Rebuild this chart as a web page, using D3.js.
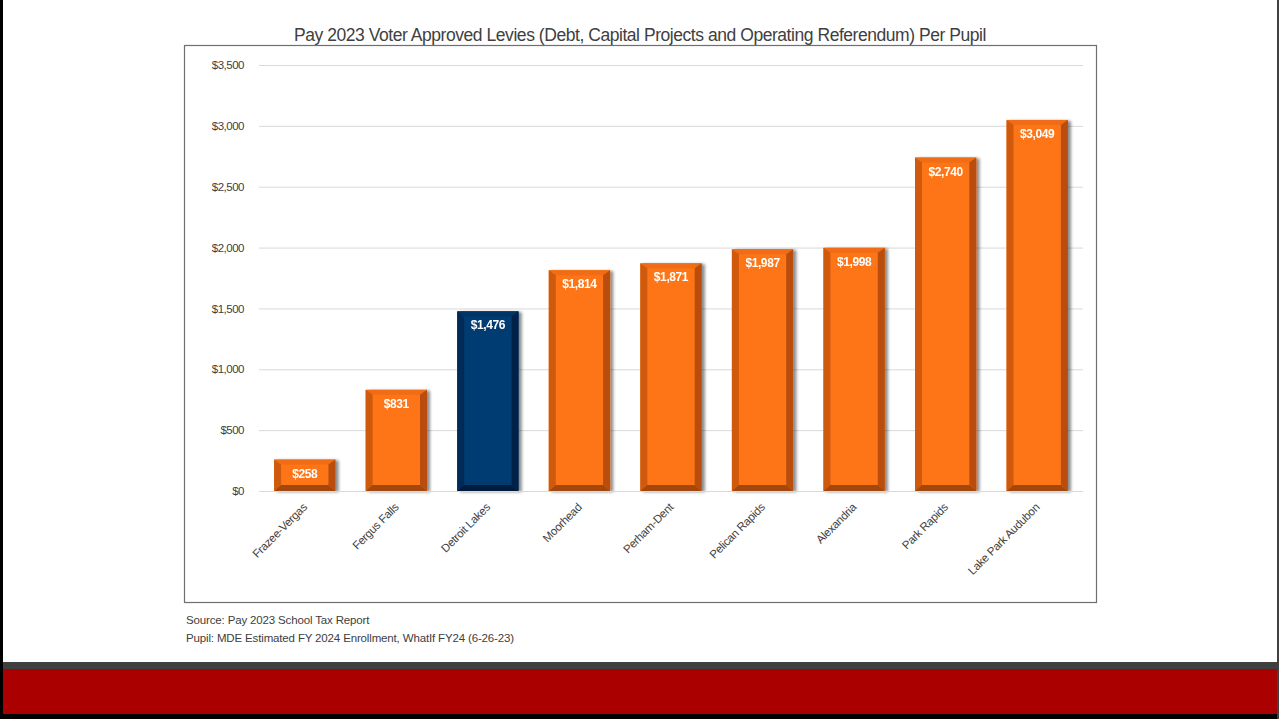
<!DOCTYPE html>
<html>
<head>
<meta charset="utf-8">
<script src="https://cdn.jsdelivr.net/npm/d3@7"></script>
<style>
  html, body { margin: 0; padding: 0; background: #fff; }
  svg { display: block; font-family: "Liberation Sans", Arial, sans-serif; }
</style>
</head>
<body>
<svg id="chart" width="1279" height="719"></svg>
<script>
// Pay 2023 voter approved levies per pupil, by district
const districts = ["Frazee-Vergas", "Fergus Falls", "Detroit Lakes", "Moorhead", "Perham-Dent",
                   "Pelican Rapids", "Alexandria", "Park Rapids", "Lake Park Audubon"];
const perPupil = [258, 831, 1476, 1814, 1871, 1987, 1998, 2740, 3049];
const highlighted = ["Detroit Lakes"];
const yTicks = [0, 500, 1000, 1500, 2000, 2500, 3000, 3500];
const titleText = "Pay 2023 Voter Approved Levies (Debt, Capital Projects and Operating Referendum) Per Pupil";
const notes = ["Source: Pay 2023 School Tax Report",
               "Pupil: MDE Estimated FY 2024 Enrollment, WhatIf FY24 (6-26-23)"];

const svg = d3.select("#chart");
const W = 1279, H = 719;

// slide frame and footer bands
svg.append("rect").attr("x", 0).attr("y", 0).attr("width", W).attr("height", H).attr("fill", "#fff");
svg.append("rect").attr("x", 3).attr("y", 662).attr("width", W - 5).attr("height", 7).attr("fill", "#3f3f3f");
svg.append("rect").attr("x", 3).attr("y", 669).attr("width", W - 5).attr("height", 45).attr("fill", "#ab0000");
svg.append("rect").attr("x", 0).attr("y", 0).attr("width", 3).attr("height", H).attr("fill", "#000");
svg.append("rect").attr("x", 0).attr("y", 714).attr("width", W).attr("height", 5).attr("fill", "#000");
svg.append("rect").attr("x", W - 2).attr("y", 0).attr("width", 2).attr("height", H).attr("fill", "#404040");

// chart box
svg.append("rect").attr("x", 184.5).attr("y", 45.5).attr("width", 912).attr("height", 557)
  .attr("fill", "#fff").attr("stroke", "#6f6f6f").attr("stroke-width", 1.2);

svg.append("text").attr("x", 640).attr("y", 41).attr("text-anchor", "middle")
  .attr("font-size", 17.5).attr("letter-spacing", -0.45).attr("fill", "#404040").text(titleText);

const x = d3.scaleBand().domain(districts).range([259, 1083]).paddingInner(0.33).paddingOuter(0.165);
const y = d3.scaleLinear().domain([0, 3500]).range([491, 65]);

// gridlines + y axis
const yAxis = d3.axisLeft(y).tickValues(yTicks).tickSize(-(1083 - 259))
  .tickFormat(d => "$" + d3.format(",")(d)).tickPadding(15);
const gy = svg.append("g").attr("transform", "translate(259,0)").call(yAxis);
gy.select(".domain").remove();
gy.selectAll(".tick line").attr("stroke", "#d9d9d9").attr("stroke-width", 1);
gy.selectAll(".tick text").attr("font-size", 11.5).attr("fill", "#404040")
  .attr("font-family", "'Liberation Sans', Arial, sans-serif").attr("letter-spacing", -0.5);

// shadow filter
const defs = svg.append("defs");
const f = defs.append("filter").attr("id", "shadow").attr("x", "-20%").attr("y", "-10%")
  .attr("width", "150%").attr("height", "130%");
f.append("feGaussianBlur").attr("in", "SourceAlpha").attr("stdDeviation", 1.6).attr("result", "b");
f.append("feOffset").attr("in", "b").attr("dx", 3).attr("dy", 1).attr("result", "o");
f.append("feComponentTransfer").attr("in", "o").attr("result", "s")
  .append("feFuncA").attr("type", "linear").attr("slope", 0.45);
const m = f.append("feMerge");
m.append("feMergeNode").attr("in", "s");
m.append("feMergeNode").attr("in", "SourceGraphic");

const palette = {
  normal: { face: "#fd7516", left: "#cf5a0e", right: "#b84d0b", top: "#f06c12", bottom: "#a2470f" },
  hi:     { face: "#053b71", left: "#032c58", right: "#022449", top: "#043466", bottom: "#021d3c" }
};

const bars = svg.append("g").selectAll("g.bar").data(districts.map((d, i) => ({ name: d, v: perPupil[i] })))
  .join("g").attr("class", "bar").attr("filter", "url(#shadow)");

const bx = 7, bt = 5, bb = 6;
bars.each(function(d) {
  const g = d3.select(this);
  const c = highlighted.includes(d.name) ? palette.hi : palette.normal;
  const x0 = x(d.name), x1 = x0 + x.bandwidth(), y0 = y(d.v), y1 = y(0);
  const poly = pts => pts.map(p => p.join(",")).join(" ");
  g.append("rect").attr("x", x0).attr("y", y0).attr("width", x1 - x0).attr("height", y1 - y0).attr("fill", c.face);
  g.append("polygon").attr("points", poly([[x0, y0], [x1, y0], [x1 - bx, y0 + bt], [x0 + bx, y0 + bt]])).attr("fill", c.top);
  g.append("polygon").attr("points", poly([[x0, y0], [x0 + bx, y0 + bt], [x0 + bx, y1 - bb], [x0, y1]])).attr("fill", c.left);
  g.append("polygon").attr("points", poly([[x1, y0], [x1, y1], [x1 - bx, y1 - bb], [x1 - bx, y0 + bt]])).attr("fill", c.right);
  g.append("polygon").attr("points", poly([[x0, y1], [x0 + bx, y1 - bb], [x1 - bx, y1 - bb], [x1, y1]])).attr("fill", c.bottom);
  g.append("text").attr("x", (x0 + x1) / 2).attr("y", y0 + 18).attr("text-anchor", "middle")
    .attr("font-size", 12).attr("font-weight", "bold").attr("fill", "#fff").attr("letter-spacing", -0.4)
    .text("$" + d3.format(",")(d.v));
});

// baseline
svg.append("line").attr("x1", 259).attr("x2", 1083).attr("y1", 491.5).attr("y2", 491.5)
  .attr("stroke", "#d9d9d9");

// x axis labels, rotated
const xAxis = d3.axisBottom(x).tickSize(0).tickPadding(0);
const gx = svg.append("g").attr("transform", "translate(0,491)").call(xAxis);
gx.select(".domain").remove();
gx.selectAll(".tick text")
  .attr("font-size", 11.5).attr("fill", "#404040").attr("font-family", "'Liberation Sans', Arial, sans-serif")
  .attr("letter-spacing", -0.3)
  .attr("text-anchor", "end").attr("dy", 0).attr("y", 0)
  .attr("transform", "translate(3,17) rotate(-45)");

svg.append("g").selectAll("text").data(notes).join("text")
  .attr("x", 186).attr("y", (d, i) => 624 + i * 18).attr("font-size", 11.5).attr("fill", "#404040")
  .attr("letter-spacing", -0.15).text(d => d);
</script>
</body>
</html>
